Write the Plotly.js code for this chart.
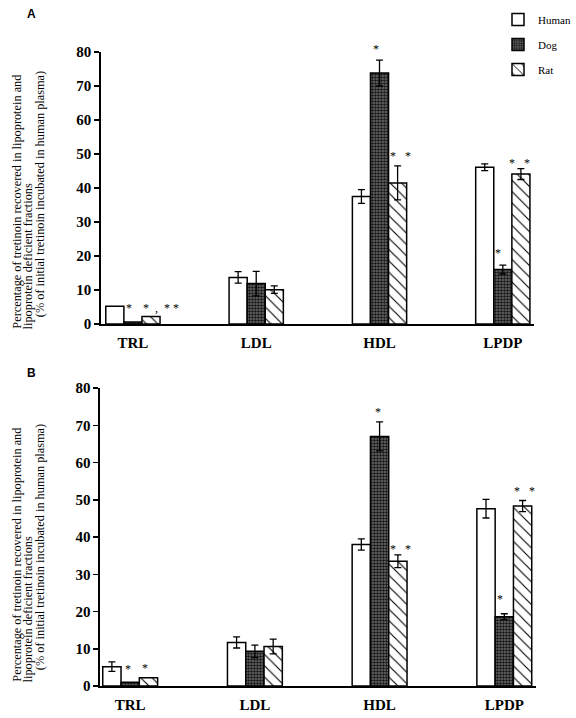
<!DOCTYPE html>
<html>
<head>
<meta charset="utf-8">
<script src="https://cdn.plot.ly/plotly-3.0.1.min.js"></script>
<style>html,body{margin:0;padding:0;background:#fff;}#chart{width:576px;height:718px;}</style>
</head>
<body>
<div id="chart"></div>
<script>
// ---------- data ----------
const categories = ["TRL", "LDL", "HDL", "LPDP"];
const seriesNames = ["Human", "Dog", "Rat"];

// Panel A
const humanA = [5.2, 13.7, 37.5, 46.1];
const humanErrA = [null, 1.7, 2.0, 1.0];
const dogA = [0.6, 11.9, 73.8, 16.0];
const dogErrA = [null, 3.6, 3.8, 1.3];
const ratA = [2.2, 10.1, 41.5, 44.1];
const ratErrA = [null, 1.1, 5.0, 1.6];
const humanStarsA = ["", "", "", ""];
const dogStarsA = ["*", "", "*", "*"];
const ratStarsA = ["*\u00a0\u00a0,\u00a0\u00a0*\u00a0*", "", "*\u00a0\u00a0\u00a0*", "*\u00a0\u00a0\u00a0*"];

// Panel B
const humanB = [5.2, 11.7, 38.0, 47.6];
const humanErrB = [1.3, 1.5, 1.5, 2.5];
const dogB = [1.0, 9.3, 67.0, 18.6];
const dogErrB = [null, 1.7, 3.9, 0.8];
const ratB = [2.2, 10.6, 33.5, 48.3];
const ratErrB = [null, 2.0, 1.7, 1.5];
const humanStarsB = ["", "", "", ""];
const dogStarsB = ["*", "", "*", "*"];
const ratStarsB = ["*", "", "*\u00a0\u00a0\u00a0*", "*\u00a0\u00a0\u00a0*"];

const yTitleLines = [
  "Percentage of tretinoin recovered in lipoprotein and",
  "lipoprotein deficient fractions",
  "(% of initial tretinoin incubated in human plasma)"
];

// ---------- styling ----------
const W = 576, H = 718;
const px = v => v / W;
const py = v => 1 - v / H;
const serif = "Liberation Serif, Times New Roman, serif";
const styles = [
  {color: "#ffffff", pattern: {shape: ""}},
  {color: "#666666", pattern: {shape: ".", fgcolor: "#111111", bgcolor: "#6f6f6f", size: 3, solidity: 0.5, fillmode: "replace"}},
  {color: "#ffffff", pattern: {shape: "\\", fgcolor: "#000000", bgcolor: "#ffffff", size: 8, solidity: 0.14, fillmode: "replace"}}
];

function makeTraces(vals, errs, xa, ya, showLegend) {
  return vals.map((v, i) => ({
    type: "bar",
    name: seriesNames[i],
    legendgroup: seriesNames[i],
    x: categories,
    y: v,
    xaxis: xa, yaxis: ya,
    showlegend: showLegend,
    marker: {color: styles[i].color, pattern: styles[i].pattern, line: {color: "#000", width: 1.5}},
    error_y: {type: "data", array: errs[i].map(e => e === null ? NaN : e), visible: true, color: "#000", thickness: 1.3, width: 3.5},
    hoverinfo: "skip"
  }));
}

const traces = [
  ...makeTraces([humanA, dogA, ratA], [humanErrA, dogErrA, ratErrA], "x", "y", true),
  ...makeTraces([humanB, dogB, ratB], [humanErrB, dogErrB, ratErrB], "x2", "y2", false)
];

// star annotations (placement offsets in px, layout only)
const barW = 0.1467;
function starAnns(vals, errs, stars, xref, yref, offs) {
  const out = [];
  stars.forEach((row, s) => row.forEach((t, c) => {
    if (!t) return;
    const o = offs[s + "," + c] || [0, 10];
    const top = vals[s][c] + (errs[s][c] || 0);
    out.push({x: c + (s - 1) * barW, y: top, xref, yref, text: t, showarrow: false,
      xanchor: "center", yanchor: "bottom", xshift: o[0], yshift: o[1] - 10,
      font: {family: serif, size: 12, color: "#000"}});
  }));
  return out;
}
const offsA = {"1,0": [-4, 15], "2,0": [10, 10], "1,2": [-4, 12], "2,2": [3, 11], "1,3": [-5, 13], "2,3": [-1, 7]};
const offsB = {"1,0": [-2, 14], "2,0": [-3, 11], "1,2": [-2, 11], "2,2": [3, 7], "1,3": [-4, 16], "2,3": [1.5, 10]};

function titleAnns(bottom, xs, shift3) {
  return yTitleLines.map((t, i) => ({
    x: px(xs[i]), y: py(bottom), xref: "paper", yref: "paper", text: t,
    showarrow: false, textangle: -90, xanchor: "center", yanchor: "bottom",
    yshift: i === 2 ? shift3 : 0, borderpad: 0,
    font: {family: serif, size: 12.3, color: "#000"}
  }));
}

const annotations = [
  ...starAnns([humanA, dogA, ratA], [humanErrA, dogErrA, ratErrA], [humanStarsA, dogStarsA, ratStarsA], "x", "y", offsA),
  ...starAnns([humanB, dogB, ratB], [humanErrB, dogErrB, ratErrB], [humanStarsB, dogStarsB, ratStarsB], "x2", "y2", offsB),
  ...titleAnns(330, [17, 29, 41], 12),
  ...titleAnns(683, [17, 29, 41], 12),
  {x: px(32), y: py(14), xref: "paper", yref: "paper", text: "<b>A</b>", showarrow: false, xanchor: "center", yanchor: "middle",
   font: {family: "Liberation Sans, Arial, sans-serif", size: 12, color: "#000"}},
  {x: px(32), y: py(373), xref: "paper", yref: "paper", text: "<b>B</b>", showarrow: false, xanchor: "center", yanchor: "middle",
   font: {family: "Liberation Sans, Arial, sans-serif", size: 12, color: "#000"}}
];

const tickFont = {family: serif, size: 15, color: "#000", weight: "bold"};
const xCommon = {type: "category", showline: true, linecolor: "#000", linewidth: 1.5, ticks: "", showgrid: false,
  zeroline: false, tickfont: tickFont, ticklabelstandoff: 4, automargin: false, fixedrange: true};
const yCommon = {range: [0, 80], dtick: 10, tick0: 0, showline: true, linecolor: "#000", linewidth: 1.5,
  ticks: "outside", ticklen: 5, tickwidth: 1.5, tickcolor: "#000", showgrid: false, zeroline: false,
  tickfont: tickFont, automargin: false, fixedrange: true};

const layout = {
  width: W, height: H,
  margin: {l: 0, r: 0, t: 0, b: 0},
  paper_bgcolor: "#fff", plot_bgcolor: "#fff",
  barmode: "group", bargap: 0.56, bargroupgap: 0,
  showlegend: true,
  legend: {x: px(509), y: py(5), xanchor: "left", yanchor: "top", bgcolor: "rgba(0,0,0,0)",
    font: {family: serif, size: 11, color: "#000"}, tracegroupgap: 6, itemclick: false},
  xaxis: Object.assign({}, xCommon, {domain: [px(103), px(545)], range: [-0.26, 3.25], anchor: "y"}),
  yaxis: Object.assign({}, yCommon, {domain: [py(324), py(52)], anchor: "x"}),
  xaxis2: Object.assign({}, xCommon, {domain: [px(102), px(547)], range: [-0.243, 3.251], anchor: "y2"}),
  yaxis2: Object.assign({}, yCommon, {domain: [py(686), py(388)], anchor: "x2"}),
  annotations: annotations
};

Plotly.newPlot("chart", traces, layout, {displayModeBar: false, staticPlot: true});
</script>
</body>
</html>
